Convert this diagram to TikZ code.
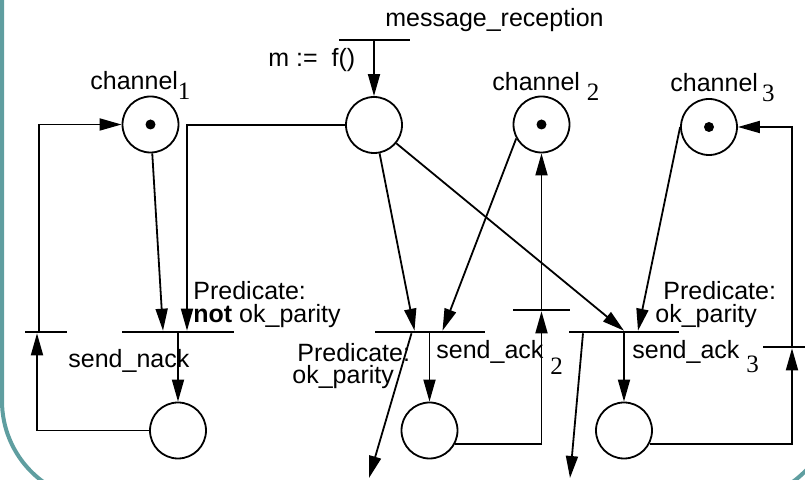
\documentclass[tikz,border=0pt]{standalone}
\usepackage{fontspec}
\setmainfont{Liberation Sans}
\newfontfamily\digitfont{Liberation Serif}
\usetikzlibrary{arrows.meta}

\definecolor{slideframe}{RGB}{95,158,160}

% index digits sit below the baseline
\newcommand{\lowdigit}[2][5pt]{\raisebox{-#1}{\digitfont #2}}

\tikzset{
  place/.style={circle,draw,line width=0.9pt,minimum size=28pt,inner sep=0pt},
  token/.style={circle,fill,minimum size=5pt,inner sep=0pt},
  bar/.style={fill,minimum height=0.9pt,inner sep=0pt,minimum width=#1},
  arc/.style={line width=0.9pt,-{Triangle[length=11pt,width=6pt]}},
  lbl/.style={inner sep=0pt,font=\fontsize{12.5}{11.25}\selectfont},
  frame/.style={draw=slideframe,line width=2pt,rounded corners=50pt}
}

\begin{document}
\begin{tikzpicture}[x=0.5pt,y=-0.5pt]
\useasboundingbox (0,0) rectangle (805,480);
\clip (0,0) rectangle (805,480);

\draw[frame] (2,-300) rectangle (834,501);

% places
\node[place] (ch1) at (150.5,124.5) {};
\node[place] (m) at (374,125) {};
\node[place] (ch2) at (541.5,124.5) {};
\node[place] (ch3) at (709,127) {};
\node[place] (pnack) at (178,430.5) {};
\node[place] (pack2) at (429.5,430.5) {};
\node[place] (pack3) at (624,430.5) {};
\node[token] (tok1) at (ch1) {};
\node[token] (tok2) at (ch2) {};
\node[token] (tok3) at (ch3) {};

% transitions
\node[bar=35.5pt] (trecv) at (374,40) {};
\node[bar=56pt] (tnack) at (178,332) {};
\node[bar=21pt] (tr1) at (46,332) {};
\node[bar=55pt] (tack2) at (429.5,332) {};
\node[bar=28.5pt] (tr2) at (541.5,310) {};
\node[bar=55pt] (tack3) at (624,332) {};
\node[bar=29pt] (tr3) at (792,347) {};

\coordinate (out2) at (369,478);
\coordinate (out3) at (570,478);

% arcs
\draw[arc] (trecv) -- (m);
\draw[arc] (m.west) -| ([xshift=4.5pt]tnack.north);
\draw[arc] (ch1) -- ([xshift=-7.5pt]tnack.north);
\draw[arc] (tnack) -- (pnack);
\draw[arc] (pnack.west) -| ([xshift=-4.5pt]tr1.south);
\draw[arc] ([xshift=-3.5pt]tr1.north) |- (ch1.west);
\draw[arc] (m) -- ([xshift=-7.5pt]tack2.north);
\draw[arc] (ch2.209) -- ([xshift=6.5pt]tack2.north);
\draw[arc] (tack2) -- (pack2);
\draw[arc] ([xshift=-9pt]tack2.south) -- (out2);
\draw[arc] (pack2.-27) -| (tr2.south);
\draw[arc] (tr2) -- (ch2);
\draw[arc] (m) -- (tack3.north);
\draw[arc] (ch3.west) -- ([xshift=7pt]tack3.north);
\draw[arc] (tack3) -- (pack3);
\draw[arc] ([xshift=-20.5pt]tack3.south) -- (out3);
\draw[arc] (pack3.-27) -| (tr3.south);
\draw[arc] (tr3) |- (ch3.east);

% labels
\node[lbl,anchor=base west] (lrecv) at (385,27) {message\_reception};
\node[lbl,anchor=base west] (lassign) at (268,66.5) {m :=~ f()};
\node[lbl,anchor=base west] (lch1) at (90,90) {channel\lowdigit{1}};
\node[lbl,anchor=base west] (lch2) at (492,91) {channel \lowdigit{2}};
\node[lbl,anchor=base west] (lch3) at (670,91.5) {channel\,\lowdigit{3}};
\node[lbl,anchor=base west] (lnack) at (68,367.5) {send\_nack};
\node[lbl,anchor=base west] (lack2) at (436,358.5) {send\_ack \lowdigit[8pt]{2}};
\node[lbl,anchor=base west] (lack3) at (632,358.5) {send\_ack \lowdigit[7pt]{3}};
\node[lbl,anchor=north west,align=left] (pred1) at (193,281) {Predicate:\\\textbf{not} ok\_parity};
\node[lbl,anchor=north west,align=left] (pred2) at (292,342.5) {\hspace*{2.5pt}Predicate:\\ok\_parity};
\node[lbl,anchor=north west,align=left] (pred3) at (655,281) {\hspace*{4pt}Predicate:\\ok\_parity};

\end{tikzpicture}
\end{document}
